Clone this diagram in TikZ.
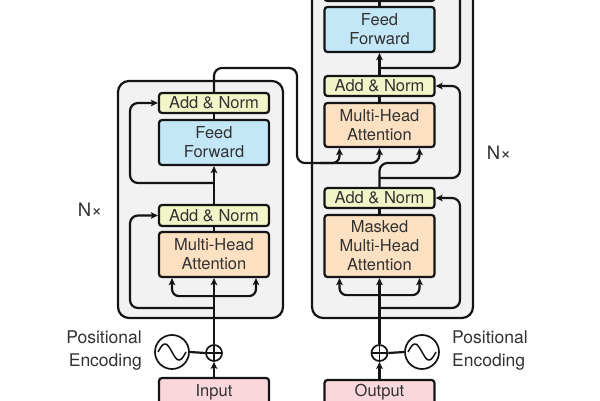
\documentclass[tikz,border=0pt]{standalone}
\usepackage{fontspec}
\setmainfont{TeX Gyre Heros}
\usetikzlibrary{arrows.meta}
\definecolor{txt}{RGB}{50,50,50}
\definecolor{ln}{RGB}{20,20,20}
\definecolor{stackfill}{RGB}{242,242,242}
\definecolor{anfill}{RGB}{242,245,200}
\definecolor{fffill}{RGB}{196,231,247}
\definecolor{mhafill}{RGB}{252,224,194}
\definecolor{iofill}{RGB}{249,215,220}
\tikzset{
  lay/.style={draw=ln, line width=2.2pt, rounded corners=3pt, minimum width=110pt, align=center, text=txt, font=\fontsize{16.5}{19}\selectfont, inner sep=0pt},
  anbox/.style={lay, fill=anfill, minimum height=20pt},
  ffbox/.style={lay, fill=fffill, minimum height=45pt},
  mhabox/.style={lay, fill=mhafill},
  iobox/.style={lay, fill=iofill, minimum height=32pt},
  stackbox/.style={draw=ln, line width=2.2pt, rounded corners=11pt, fill=stackfill, inner sep=0pt},
  conn/.style={draw=ln, line width=2.2pt},
  arr/.style={conn, -{Stealth[length=7pt,width=6.5pt,inset=1.5pt]}},
  arrboth/.style={conn, {Stealth[length=7pt,width=6.5pt,inset=1.5pt]}-{Stealth[length=7pt,width=6.5pt,inset=1.5pt]}},
  addc/.style={circle, draw=ln, line width=1.7pt, minimum size=16pt, inner sep=0pt},
  sinc/.style={circle, draw=ln, line width=1.7pt, minimum size=34pt, inner sep=0pt},
  lbl/.style={text=txt, font=\fontsize{17.5}{23}\selectfont, inner sep=0pt},
}
\begin{document}
\begin{tikzpicture}[x=1pt,y=-1pt]
\useasboundingbox (0,0) rectangle (600,401);
% outer stacks
\node[stackbox, minimum width=165pt, minimum height=237pt] (encBox) at (200.5,199.5) {};
\node[stackbox, minimum width=161pt, minimum height=348pt] (decBox) at (392.5,144) {};
% encoder layers
\node[anbox] (eAN2) at (214,103) {Add \& Norm};
\node[ffbox] (eFF) at (214,142.5) {Feed\\Forward};
\node[anbox, minimum height=21pt] (eAN1) at (214,215.5) {Add \& Norm};
\node[mhabox, minimum height=45pt] (eMHA) at (214,254.5) {Multi-Head\\Attention};
\node[iobox] (eIn) at (214,394) {};
\node[lbl, font=\fontsize{16.5}{19}\selectfont] (eInT) at (214,392) {Input};
\node[addc] (eAdd) at (214,353) {};
\node[sinc] (eSin) at (172,352) {};
\node[lbl, anchor=east, align=right] (ePE) at (142,351) {Positional\\Encoding};
\node[lbl, font=\fontsize{18.5}{22}\selectfont] (eN) at (90,210) {N×};
% decoder layers
\node[anbox, minimum height=21pt] (dAN3) at (379.5,-9.5) {};
\node[ffbox] (dFF) at (379.5,29.5) {Feed\\Forward};
\node[anbox] (dAN2) at (379.5,86) {Add \& Norm};
\node[mhabox, minimum height=44pt] (dMHA) at (379.5,125) {Multi-Head\\Attention};
\node[anbox] (dAN1) at (379.5,198) {Add \& Norm};
\node[mhabox, minimum height=62pt] (dMMHA) at (379.5,246) {Masked\\Multi-Head\\Attention};
\node[iobox] (dOut) at (379.5,396) {};
\node[lbl, font=\fontsize{16.5}{19}\selectfont] (dOutT) at (379.5,392) {Output};
\node[addc] (dAdd) at (379.5,353) {};
\node[sinc] (dSin) at (422,352) {};
\node[lbl, anchor=west, align=left] (dPE) at (452,351) {Positional\\Encoding};
\node[lbl, font=\fontsize{18.5}{22}\selectfont] (dN) at (499,153) {N×};
% plus signs and sine waves
\draw[ln, line width=1.5pt] ([xshift=-8pt]eAdd.center) -- ([xshift=8pt]eAdd.center) ([yshift=-8pt]eAdd.center) -- ([yshift=8pt]eAdd.center);
\draw[ln, line width=1.5pt] ([xshift=-8pt]dAdd.center) -- ([xshift=8pt]dAdd.center) ([yshift=-8pt]dAdd.center) -- ([yshift=8pt]dAdd.center);
\draw[ln, line width=1.5pt, shift={(eSin.center)}] plot[domain=0:360, samples=50, smooth] ({-14+28*\x/360},{-8*sin(\x)});
\draw[ln, line width=1.5pt, shift={(dSin.center)}] plot[domain=0:360, samples=50, smooth] ({-14+28*\x/360},{-8*sin(\x)});
% encoder connectors
\coordinate (eR1) at (214,308);
\coordinate (eR2) at (214,183);
\draw[arr] (eIn.north) -- (eAdd.south);
\draw[conn] (eSin.east) -- (eAdd.west);
\draw[arr] (eAdd.north) -- (eMHA.south);
\draw[arrboth, rounded corners=7pt] ([xshift=-42pt]eMHA.south) -- ++(0,18) -| ([xshift=42pt]eMHA.south);
\draw[arr, rounded corners=8pt] (eR1) -| (130,215.5) -- (eAN1.west);
\draw[conn] (eMHA.north) -- (eAN1.south);
\draw[arr] (eAN1.north) -- (eFF.south);
\draw[arr, rounded corners=8pt] (eR2) -| (130,103) -- (eAN2.west);
\draw[conn] (eFF.north) -- (eAN2.south);
\draw[arr, rounded corners=8pt] (eAN2.north) -- (214,68) -- (297,68) -- (297,163) -- (379.5,163) -- (dMHA.south);
\draw[arr, rounded corners=7pt] (320,163) -- (339.5,163) -- ([xshift=-40pt]dMHA.south);
% decoder connectors
\coordinate (dR1) at (379.5,308);
\coordinate (dR2) at (379.5,178);
\coordinate (dR3) at (379.5,68);
\draw[arr] (dOut.north) -- (dAdd.south);
\draw[conn] (dAdd.east) -- (dSin.west);
\draw[arr] (dAdd.north) -- (dMMHA.south);
\draw[arrboth, rounded corners=7pt] ([xshift=-40pt]dMMHA.south) -- ++(0,17) -| ([xshift=40pt]dMMHA.south);
\draw[arr, rounded corners=8pt] (dR1) -| (460,198) -- (dAN1.east);
\draw[conn] (dMMHA.north) -- (dAN1.south);
\draw[arr, rounded corners=8pt] (dAN1.north) -- (379.5,163) -- (419.5,163) -- ([xshift=40pt]dMHA.south);
\draw[arr, rounded corners=8pt] (dR2) -| (460,86) -- (dAN2.east);
\draw[conn] (dMHA.north) -- (dAN2.south);
\draw[arr] (dAN2.north) -- (dFF.south);
\draw[conn, rounded corners=8pt] (dR3) -| (460,-30);
\draw[conn] (dFF.north) -- (dAN3.south);
\end{tikzpicture}
\end{document}
